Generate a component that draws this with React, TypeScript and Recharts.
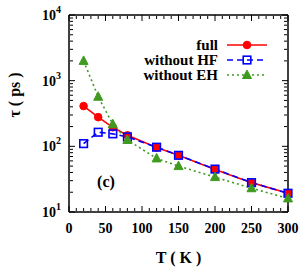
import React from "react";
import { Line, LineChart, XAxis, YAxis } from "recharts";

const temps = [20, 40, 60, 80, 120, 150, 200, 250, 300];
const fullTau = [410, 278, 195, 147, 96, 73, 44.5, 28, 19.3];
const noHfTau = [110, 164, 155, 139, 97, 73, 45, 28, 19.3];
const noEhTau = [2000, 569, 217, 125, 65.5, 50, 34, 23, 16.1];

const xTicks = [0, 50, 100, 150, 200, 250, 300];
const xMinor = [10, 20, 30, 40, 60, 70, 80, 90, 110, 120, 130, 140, 160, 170, 180, 190, 210, 220, 230, 240, 260, 270, 280, 290];
const yTicks = [10, 100, 1000, 10000];
const yMinor = [20, 30, 40, 50, 60, 70, 80, 90, 200, 300, 400, 500, 600, 700, 800, 900, 2000, 3000, 4000, 5000, 6000, 7000, 8000, 9000];

const series = [
  { key: "full", name: "full", color: "#ff0000", dash: undefined, marker: "circle" },
  { key: "noHF", name: "without HF", color: "#0000ff", dash: "6 4", marker: "square" },
  { key: "noEH", name: "without EH", color: "#3f9a1f", dash: "2 3", marker: "triangle" },
];

const data = temps.map((t, i) => ({ T: t, full: fullTau[i], noHF: noHfTau[i], noEH: noEhTau[i] }));

const FONT = "'Liberation Serif', 'DejaVu Serif', serif";

function Marker({ type, cx, cy, color }: { type: string; cx: number; cy: number; color: string }) {
  if (cx == null || cy == null) return null;
  if (type === "circle") return <circle cx={cx} cy={cy} r={3.8} fill={color} stroke={color} />;
  if (type === "square")
    return <rect x={cx - 3.8} y={cy - 3.8} width={7.6} height={7.6} fill="none" stroke={color} strokeWidth={1.6} />;
  return <polygon points={`${cx},${cy - 5} ${cx - 4.5},${cy + 3.5} ${cx + 4.5},${cy + 3.5}`} fill={color} stroke={color} />;
}

const EmptyTick = () => <g />;

function YLabel(props: any) {
  const { x, y, payload } = props;
  const exp = Math.round(Math.log10(payload.value));
  return (
    <text x={x} y={y + 5} textAnchor="end" fontFamily={FONT} fontWeight="bold" fontSize={14} fill="#000">
      <tspan>10</tspan>
      <tspan dy={-7} fontSize={10}>
        {exp}
      </tspan>
    </text>
  );
}

export default function App() {
  const axisStroke = { stroke: "#000", strokeWidth: 1.5 };
  const tickStroke = { stroke: "#000", strokeWidth: 1 };
  const xTickAxis = { dataKey: "T", type: "number" as const, domain: [0, 300], interval: 0, mirror: true, height: 1, tick: EmptyTick, tickLine: tickStroke };
  const yTickAxis = { type: "number" as const, scale: "log" as const, domain: [10, 10000], allowDataOverflow: true, interval: 0, mirror: true, width: 1, tick: EmptyTick, tickLine: tickStroke };
  return (
    <div style={{ position: "absolute", left: 0, top: 0, width: 303, height: 273, background: "#fff" }}>
      <LineChart width={303} height={273} data={data} margin={{ top: 15, right: 15, left: 9, bottom: 31 }}>
        <XAxis
          xAxisId="xl"
          dataKey="T"
          type="number"
          domain={[0, 300]}
          ticks={xTicks}
          interval={0}
          height={30}
          tickLine={false}
          axisLine={axisStroke}
          tickMargin={5}
          tick={{ fontFamily: FONT, fontWeight: "bold", fontSize: 14, fill: "#000" }}
          label={{ value: "T ( K )", position: "bottom", offset: 10, fontFamily: FONT, fontWeight: "bold", fontSize: 16, fill: "#000" }}
        />
        <XAxis xAxisId="xb" {...xTickAxis} ticks={xTicks} tickSize={6} axisLine={false} />
        <XAxis xAxisId="xbm" {...xTickAxis} ticks={xMinor} tickSize={3} axisLine={false} />
        <XAxis xAxisId="xt" {...xTickAxis} orientation="top" ticks={xTicks} tickSize={6} axisLine={axisStroke} />
        <XAxis xAxisId="xtm" {...xTickAxis} orientation="top" ticks={xMinor} tickSize={3} axisLine={false} />

        <YAxis
          yAxisId="yl"
          type="number"
          scale="log"
          domain={[10, 10000]}
          allowDataOverflow
          ticks={yTicks}
          interval={0}
          width={60}
          tickLine={false}
          axisLine={axisStroke}
          tickSize={6}
          tickMargin={2}
          tick={YLabel}
          label={{ value: "τ ( ps )", angle: -90, position: "insideLeft", offset: 5, dy: 4, fontFamily: FONT, fontWeight: "bold", fontSize: 16, fill: "#000" }}
        />
        <YAxis yAxisId="ylj" {...yTickAxis} ticks={yTicks} tickSize={6} axisLine={false} />
        <YAxis yAxisId="ylm" {...yTickAxis} ticks={yMinor} tickSize={3} axisLine={false} />
        <YAxis yAxisId="yr" {...yTickAxis} orientation="right" ticks={yTicks} tickSize={6} axisLine={axisStroke} />
        <YAxis yAxisId="yrm" {...yTickAxis} orientation="right" ticks={yMinor} tickSize={3} axisLine={false} />

        {series.map((s) => (
          <Line
            key={s.key}
            xAxisId="xl"
            yAxisId="yl"
            dataKey={s.key}
            name={s.name}
            stroke={s.color}
            strokeWidth={1.6}
            strokeDasharray={s.dash}
            dot={(p: any) => <Marker key={`${s.key}-${p.index}`} type={s.marker} cx={p.cx} cy={p.cy} color={s.color} />}
            activeDot={false}
            isAnimationActive={false}
          />
        ))}
      </LineChart>

      <svg width={303} height={273} style={{ position: "absolute", left: 0, top: 0, pointerEvents: "none" }}>
        {series.map((s, i) => {
          const y = 45 + i * 15;
          return (
            <g key={s.key}>
              <text x={218} y={y + 5} textAnchor="end" fontFamily={FONT} fontWeight="bold" fontSize={15} fill="#000">
                {s.name}
              </text>
              <line x1={227} x2={267} y1={y} y2={y} stroke={s.color} strokeWidth={1.6} strokeDasharray={s.dash} />
              <Marker type={s.marker} cx={247} cy={y} color={s.color} />
            </g>
          );
        })}
        <text x={106} y={187} textAnchor="middle" fontFamily={FONT} fontWeight="bold" fontSize={16} fill="#000">
          (c)
        </text>
      </svg>
    </div>
  );
}
